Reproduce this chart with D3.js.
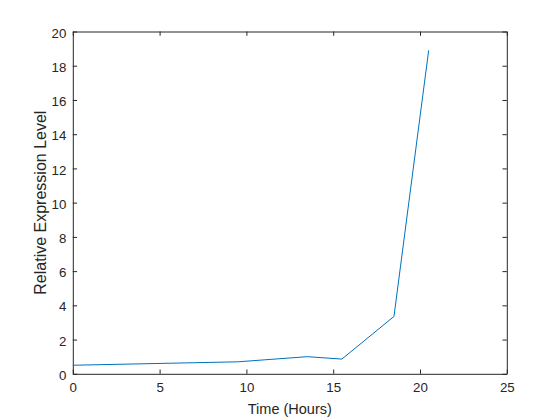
<!DOCTYPE html>
<html>
<head>
<meta charset="utf-8">
<script src="https://cdn.jsdelivr.net/npm/d3@7"></script>
<style>
html,body{margin:0;padding:0;background:#fff;}
svg{display:block;}
text{font-family:"Liberation Sans",Arial,Helvetica,sans-serif;fill:#262626;}
</style>
</head>
<body>
<svg id="chart" width="560" height="420"></svg>
<script>
const timeHours = [0, 9.5, 13.5, 15.5, 18.5, 20.5];
const expression = [0.5, 0.7, 1.0, 0.86, 3.35, 18.9];
const xTicks = [0, 5, 10, 15, 20, 25];
const yTicks = [0, 2, 4, 6, 8, 10, 12, 14, 16, 18, 20];
const xLabel = "Time (Hours)";
const yLabel = "Relative Expression Level";

(function () {
const mLeft = 72.8, mRight = 506.8, mTop = 31.5, mBottom = 373.8;
const axisColor = "#262626";
const svg = d3.select("#chart");

const x = d3.scaleLinear().domain([0, 25]).range([mLeft, mRight]);
const y = d3.scaleLinear().domain([0, 20]).range([mBottom, mTop]);

const tickLen = 4.3;

const gx = svg.append("g").attr("transform", `translate(0,${mBottom})`)
  .call(d3.axisBottom(x).tickValues(xTicks).tickSizeInner(-tickLen).tickSizeOuter(0).tickPadding(10).tickFormat(d3.format("d")));
const gy = svg.append("g").attr("transform", `translate(${mLeft},0)`)
  .call(d3.axisLeft(y).tickValues(yTicks).tickSizeInner(-tickLen).tickSizeOuter(0).tickPadding(10).tickFormat(d3.format("d")));
const gt = svg.append("g").attr("transform", `translate(0,${mTop})`)
  .call(d3.axisTop(x).tickValues(xTicks).tickSizeInner(-tickLen).tickSizeOuter(0).tickFormat(""));
const gr = svg.append("g").attr("transform", `translate(${mRight},0)`)
  .call(d3.axisRight(y).tickValues(yTicks).tickSizeInner(-tickLen).tickSizeOuter(0).tickFormat(""));

[gx, gy, gt, gr].forEach(g => {
  g.selectAll(".domain").attr("stroke", axisColor).attr("stroke-width", 1);
  g.selectAll(".tick line").attr("stroke", axisColor).attr("stroke-width", 1);
  g.selectAll(".tick text").attr("fill", axisColor)
    .style("font-family", '"Liberation Sans",Arial,Helvetica,sans-serif')
    .style("font-size", "13.3px");
});
gy.selectAll(".tick text").attr("x", -6.5).attr("dy", "0.42em");
gx.selectAll(".tick text").attr("y", 9).attr("dy", "0.71em");

const line = d3.line().x((d, i) => x(timeHours[i])).y(d => y(d));
svg.append("path")
  .datum(expression)
  .attr("d", line)
  .attr("fill", "none")
  .attr("stroke", "#0072BD")
  .attr("stroke-width", 1)
  .attr("stroke-linejoin", "round");

svg.append("text")
  .attr("x", (mLeft + mRight) / 2).attr("y", 414)
  .attr("text-anchor", "middle")
  .style("font-size", "14.5px")
  .text(xLabel);

svg.append("text")
  .attr("transform", `translate(46,${(mTop + mBottom) / 2}) rotate(-90)`)
  .attr("text-anchor", "middle")
  .style("font-size", "16px")
  .text(yLabel);
})();
</script>
</body>
</html>
